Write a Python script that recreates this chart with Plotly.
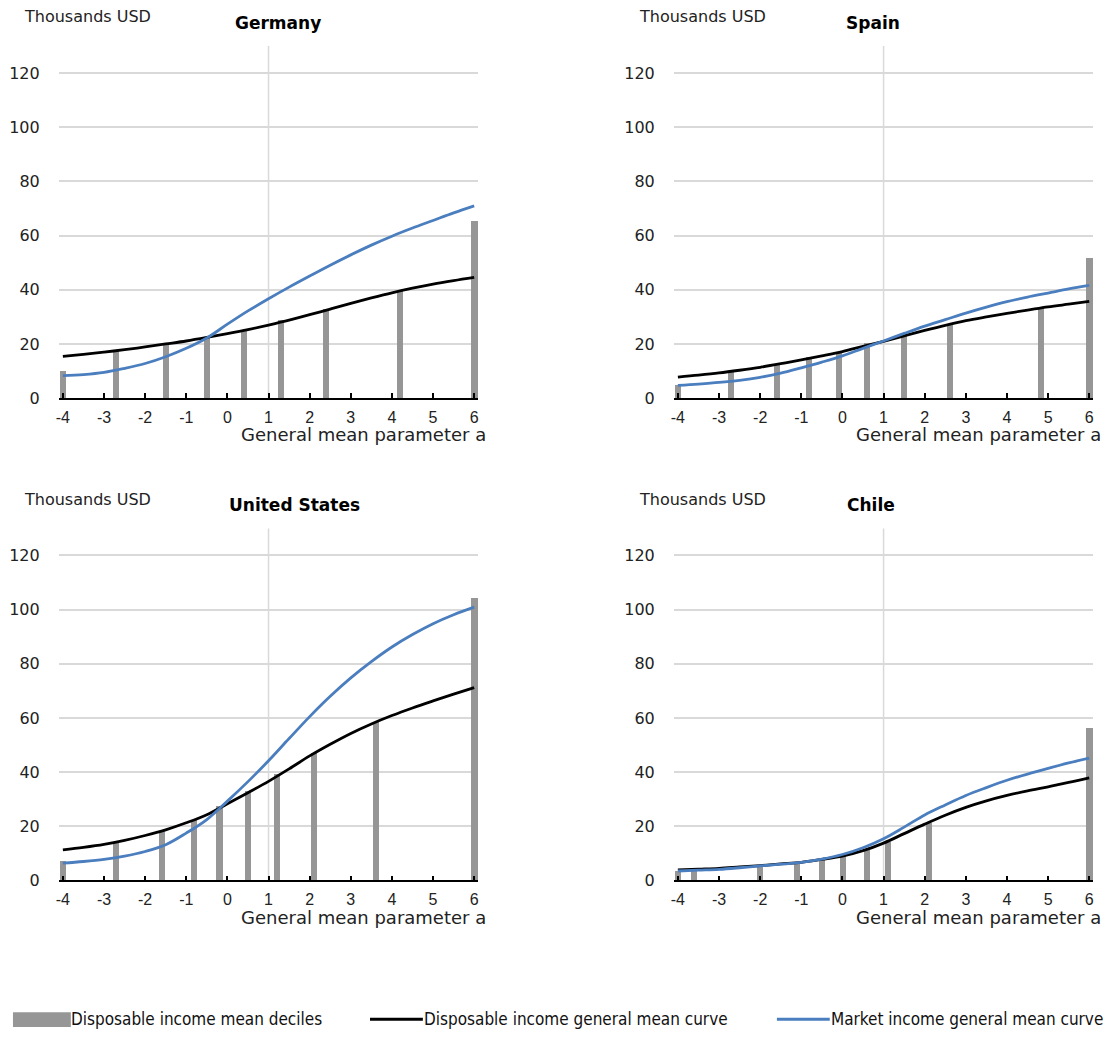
import plotly.graph_objects as go

# General mean parameter grid used for the curves
alpha = [-4, -3.5, -3, -2.5, -2, -1.5, -1, -0.5, 0, 0.5, 1,
         1.5, 2, 2.5, 3, 3.5, 4, 4.5, 5, 5.5, 6]

# Germany
de_disp = [15.4, 16.2, 17.0, 17.9, 18.9, 20.0, 21.1, 22.4, 23.8, 25.3, 27.0,
           28.8, 30.8, 32.9, 35.0, 37.0, 38.9, 40.6, 42.1, 43.4, 44.6]
de_mkt = [8.3, 8.7, 9.5, 11.0, 12.8, 15.3, 18.4, 22.2, 27.3, 32.2, 36.7,
          41.0, 45.1, 49.1, 52.9, 56.5, 59.8, 62.8, 65.6, 68.4, 71.0]
de_dec_a = [-4, -2.71, -1.5, -0.51, 0.40, 1.30, 2.39, 4.19, 6]
de_dec_v = [10.1, 17.8, 20.2, 22.7, 25.1, 28.8, 33.0, 39.5, 65.3]

# Spain
es_disp = [7.8, 8.5, 9.3, 10.3, 11.4, 12.7, 14.1, 15.6, 17.2, 19.1, 21.0,
           23.0, 25.0, 26.9, 28.6, 30.0, 31.3, 32.5, 33.7, 34.7, 35.7]
es_mkt = [4.7, 5.2, 5.8, 6.6, 7.7, 9.2, 11.2, 13.3, 15.6, 18.4, 21.1,
          23.9, 26.6, 29.0, 31.4, 33.6, 35.6, 37.3, 38.8, 40.3, 41.6]
es_dec_a = [-4, -2.71, -1.6, -0.81, -0.09, 0.6, 1.5, 2.61, 4.82, 6]
es_dec_v = [5.0, 9.8, 12.3, 15.0, 16.8, 20.4, 22.9, 27.5, 33.3, 51.9]

# United States
us_disp = [11.3, 12.2, 13.3, 14.8, 16.6, 18.7, 21.3, 24.3, 28.3, 32.4, 36.6,
           41.2, 46.0, 50.3, 54.3, 57.8, 60.9, 63.7, 66.3, 68.8, 71.2]
us_mkt = [6.4, 7.0, 7.8, 9.0, 10.7, 13.2, 17.5, 22.5, 29.3, 36.5, 44.2,
          52.4, 60.5, 68.0, 74.8, 80.8, 86.2, 90.8, 94.8, 98.1, 100.9]
us_dec_a = [-4, -2.71, -1.6, -0.81, -0.2, 0.5, 1.19, 2.09, 3.61, 6]
us_dec_v = [7.1, 13.7, 18.3, 22.3, 27.5, 32.9, 39.0, 46.9, 58.5, 104.2]

# Chile
cl_disp = [3.9, 4.2, 4.5, 5.0, 5.5, 6.1, 6.7, 7.8, 9.0, 11.0, 13.8,
           17.3, 20.8, 24.1, 27.0, 29.4, 31.4, 33.1, 34.6, 36.2, 37.9]
cl_mkt = [3.5, 3.8, 4.1, 4.7, 5.4, 6.0, 6.7, 7.9, 9.6, 12.1, 15.4,
          19.7, 24.2, 27.9, 31.4, 34.3, 37.0, 39.3, 41.4, 43.4, 45.2]
cl_dec_a = [-4, -3.61, -2.0, -1.11, -0.5, 0.0, 0.6, 1.1, 2.1, 6]
cl_dec_v = [3.3, 3.9, 5.5, 6.6, 7.9, 9.0, 11.2, 14.2, 20.9, 56.1]

countries = ["Germany", "Spain", "United States", "Chile"]
x_ticks = [-4, -3, -2, -1, 0, 1, 2, 3, 4, 5, 6]
y_ticks = [0, 20, 40, 60, 80, 100, 120]

panels = [
    (de_dec_a, de_dec_v, de_disp, de_mkt),
    (es_dec_a, es_dec_v, es_disp, es_mkt),
    (us_dec_a, us_dec_v, us_disp, us_mkt),
    (cl_dec_a, cl_dec_v, cl_disp, cl_mkt),
]

W, H = 1110, 1043
BAR = "#969696"
BLACK = "#000000"
BLUE = "#4a7ebf"
GRID = "#d9d9d9"
TEXT = "#222222"
FONT = "DejaVu Sans"
TICK_X_FONT = "Liberation Sans"
LEGEND_FONT = "DejaVu Sans Condensed, Liberation Sans, sans-serif"


def px_x(v):
    return v / W


def px_y(v):
    # pixel offset from the top edge -> paper fraction
    return 1 - v / H


# Panel boxes in pixels: (left, right, top, bottom)
boxes = [(55.9, 476.6, 46.5, 402), (672.6, 1093.3, 46.5, 402),
         (55.9, 476.6, 533.5, 889), (672.6, 1093.3, 533.5, 889)]
title_x = [276, 872, 292, 870]

fig = go.Figure()
layout = {}
shapes = []
annotations = []

for i, (dec_a, dec_v, disp, mkt) in enumerate(panels):
    n = "" if i == 0 else str(i + 1)
    xa, ya = "x" + n, "y" + n
    left, right, top, bottom = boxes[i]
    fig.add_trace(go.Bar(x=dec_a, y=dec_v, width=0.15, marker=dict(color=BAR, line=dict(width=0)),
                         xaxis=xa, yaxis=ya, showlegend=False, name="Disposable income mean deciles"))
    fig.add_trace(go.Scatter(x=alpha, y=disp, mode="lines", line=dict(color=BLACK, width=2.8, shape="spline"),
                             xaxis=xa, yaxis=ya, showlegend=False, name="Disposable income general mean curve"))
    fig.add_trace(go.Scatter(x=alpha, y=mkt, mode="lines", line=dict(color=BLUE, width=2.8, shape="spline"),
                             xaxis=xa, yaxis=ya, showlegend=False, name="Market income general mean curve"))

    layout["xaxis" + n] = dict(
        domain=[px_x(left), px_x(right)], anchor=ya, range=[-4.1, 6.1],
        tickmode="array", tickvals=x_ticks, ticktext=[str(t) for t in x_ticks],
        showgrid=False, zeroline=False, showline=True, linecolor=BLACK, linewidth=1.5,
        ticks="inside", ticklen=5, tickwidth=1.5, tickcolor=BLACK, ticklabelstandoff=4,
        tickfont=dict(family=TICK_X_FONT, size=16, color=TEXT),
    )
    layout["yaxis" + n] = dict(
        domain=[px_y(bottom), px_y(top)], anchor=xa, range=[0, 130],
        tickmode="array", tickvals=y_ticks, ticktext=[str(t) for t in y_ticks],
        showgrid=True, gridcolor=GRID, gridwidth=1.5, zeroline=False, showline=False,
        ticks="", ticklabelstandoff=18,
        tickfont=dict(family=FONT, size=16, color=TEXT),
    )
    # vertical reference line at a = 1
    shapes.append(dict(type="line", xref=xa, yref=ya + " domain", x0=1, x1=1, y0=0, y1=1,
                       line=dict(color=GRID, width=1.5), layer="below"))

    # unit label
    annotations.append(dict(text="Thousands USD", xref="paper", yref="paper",
                            x=px_x(19 if left < 500 else 636), y=px_y(top - 29.5),
                            xanchor="left", yanchor="middle", showarrow=False,
                            font=dict(family=FONT, size=16, color=TEXT)))
    # panel title
    annotations.append(dict(text="<b>%s</b>" % countries[i], xref="paper", yref="paper",
                            x=px_x(title_x[i]), y=px_y(top - 23.5), xanchor="center", yanchor="middle",
                            showarrow=False, font=dict(family=FONT, size=17, color="#000000")))
    # x axis title
    annotations.append(dict(text="General mean parameter a", xref="paper", yref="paper",
                            x=px_x(486 if left < 500 else 1103), y=px_y(bottom + 37),
                            xanchor="right", yanchor="middle", showarrow=False,
                            font=dict(family=FONT, size=18, color=TEXT)))

# Legend row along the bottom
ly = px_y(1029)
shapes.append(dict(type="rect", xref="paper", yref="paper", x0=px_x(10), x1=px_x(68),
                   y0=px_y(1037), y1=px_y(1022), fillcolor=BAR, line=dict(width=0)))
shapes.append(dict(type="line", xref="paper", yref="paper", x0=px_x(368), x1=px_x(421), y0=ly, y1=ly,
                   line=dict(color=BLACK, width=3)))
shapes.append(dict(type="line", xref="paper", yref="paper", x0=px_x(776), x1=px_x(829), y0=ly, y1=ly,
                   line=dict(color=BLUE, width=3)))
for label, lx in [("Disposable income mean deciles", 66),
                  ("Disposable income general mean curve", 420),
                  ("Market income general mean curve", 828)]:
    annotations.append(dict(text=label, xref="paper", yref="paper", x=px_x(lx), y=ly,
                            xanchor="left", yanchor="middle", showarrow=False,
                            font=dict(family=LEGEND_FONT, size=17, color="#111111")))

fig.update_layout(
    width=W, height=H, margin=dict(l=0, r=0, t=0, b=0),
    paper_bgcolor="white", plot_bgcolor="white",
    bargap=0, showlegend=False, shapes=shapes, annotations=annotations,
    **layout,
)

fig.write_html("out.html")
